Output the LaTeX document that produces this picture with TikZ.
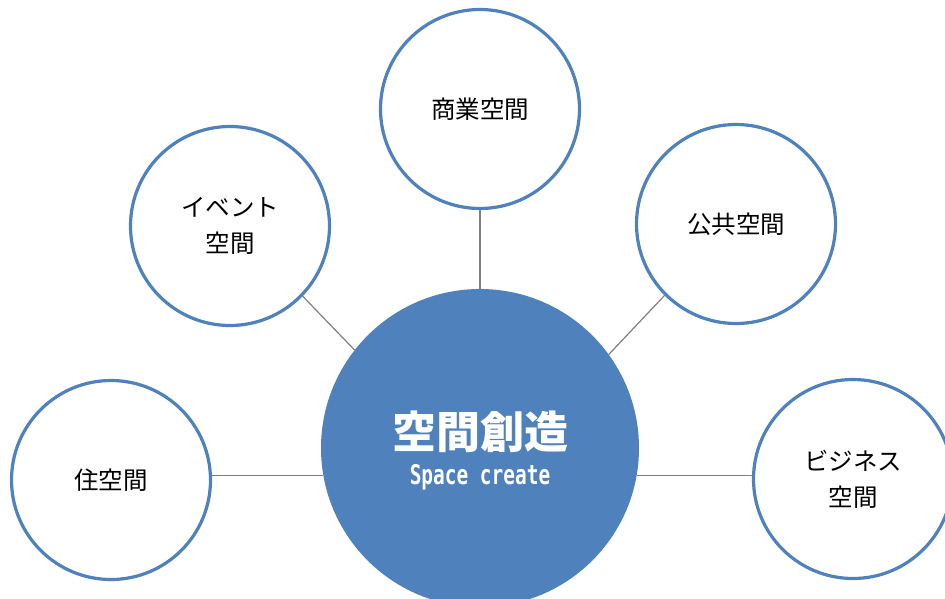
\documentclass[tikz,border=0pt]{standalone}
\usepackage{fontspec}
\newfontfamily\jp{Noto Sans CJK JP}
\newfontfamily\condmono[FakeStretch=0.72]{DejaVu Sans Mono}
\usetikzlibrary{backgrounds}
\definecolor{officeblue}{RGB}{79,129,189}
\definecolor{linkgray}{RGB}{128,128,128}
\tikzset{
  sat/.style={circle, draw=officeblue, line width=3.2pt, fill=white, minimum size=199pt,
    inner sep=0pt, align=center, text=black, font=\jp\fontsize{24.5}{36}\selectfont},
  hub/.style={circle, fill=officeblue, minimum size=318pt, inner sep=0pt},
  link/.style={draw=linkgray, line width=1.2pt},
  hubtitle/.style={text=white, font=\jp\bfseries\fontsize{44}{50}\selectfont},
  hubsub/.style={text=white, font=\condmono\bfseries\fontsize{27}{30}\selectfont}
}
\begin{document}
\begin{tikzpicture}[x=1pt,y=-1pt]
\useasboundingbox (0,0) rectangle (945,598);
\clip (0,0) rectangle (945,598);
\node[hub] (hub) at (480,448) {};
\node[hubtitle] (title) at (480,432) {空間創造};
\node[hubsub] (sub) at (480,477) {Space create};
\node[sat] (live) at (111,480) {住空間};
\node[sat] (biz) at (853,479) {ビジネス\\空間};
\node[sat] (shop) at (480,109) {商業空間};
\node[sat] (event) at (230,226) {イベント\\空間};
\node[sat] (public) at (736,224) {公共空間};
\begin{scope}[on background layer]
\fill[white] (0,0) rectangle (945,598);
\draw[link] (hub.190.5) -- (live.east |- hub.190.5);
\draw[link] (hub.-10.5) -- (biz.west |- hub.-10.5);
\draw[link] (hub.north) -- (shop.south);
\draw[link] (hub.142.3) -- (event.-44.6);
\draw[link] (hub.36.9) -- (public.225.4);
\end{scope}
\end{tikzpicture}
\end{document}
